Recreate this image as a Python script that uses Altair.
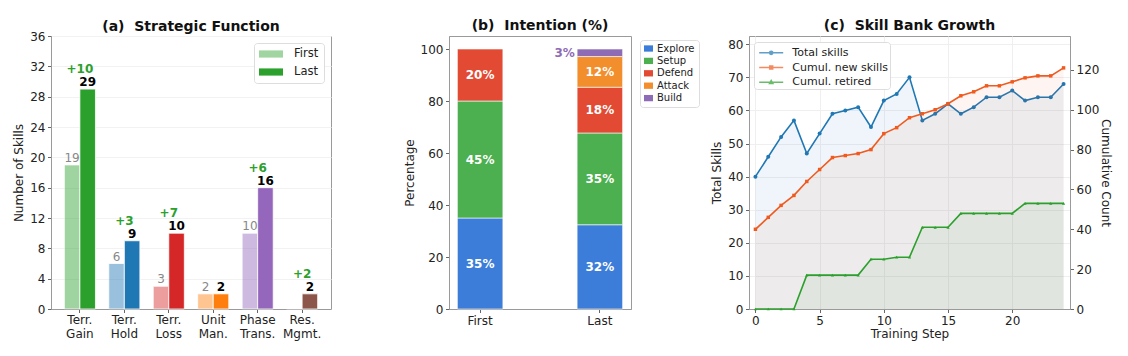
import altair as alt
import pandas as pd

FONT = "DejaVu Sans"

# ---------------- Panel (a): Strategic Function ----------------
func_cats = ["Terr. Gain", "Terr. Hold", "Terr. Loss", "Unit Man.", "Phase Trans.", "Res. Mgmt."]
func_first = [19, 6, 3, 2, 10, 0]
func_last = [29, 9, 10, 2, 16, 2]
func_colors = ["#2ca02c", "#1f77b4", "#d62728", "#ff7f0e", "#9467bd", "#8c564b"]
series_ab = ["First", "Last"]

# ---------------- Panel (b): Intention (%) ----------------
int_bars = ["First", "Last"]
int_cats = ["Explore", "Setup", "Defend", "Attack", "Build"]
int_first = [35, 45, 20, 0, 0]
int_last = [32.4, 35.3, 17.6, 11.8, 2.9]
int_colors = ["#3b7dd8", "#4caf50", "#e24a33", "#f28e2b", "#8e6bb5"]

# ---------------- Panel (c): Skill Bank Growth ----------------
steps = list(range(25))
total_skills = [40, 46, 52, 57, 47, 53, 59, 60, 61, 55, 63, 65, 70, 57, 59, 62, 59, 61, 64, 64, 66, 63, 64, 64, 68]
cumul_new = [40, 46, 52, 57, 64, 70, 76, 77, 78, 80, 88, 91, 96, 98, 100, 103, 107, 109, 112, 112, 114, 116, 117, 117, 121]
cumul_retired = [0, 0, 0, 0, 17, 17, 17, 17, 17, 25, 25, 26, 26, 41, 41, 41, 48, 48, 48, 48, 48, 53, 53, 53, 53]
series_c = ["Total skills", "Cumul. new skills", "Cumul. retired"]
colors_c = ["#1f77b4", "#f05a1e", "#2ca02c"]

# ======================= Panel (a) =======================
rows = []
for c, f, l, col in zip(func_cats, func_first, func_last, func_colors):
    rows.append(dict(cat=c, series="First", value=f, color=col, label=str(f) if f > 0 else ""))
    rows.append(dict(cat=c, series="Last", value=l, color=col, label=str(l)))
dfa = pd.DataFrame(rows)
dfd = pd.DataFrame(dict(cat=func_cats, value=func_last,
                        delta=[l - f for f, l in zip(func_first, func_last)]))
dfd = dfd[dfd.delta > 0].copy()
dfd["dlabel"] = "+" + dfd["delta"].astype(str)

xa = alt.X("cat:N", sort=func_cats,
           scale=alt.Scale(paddingInner=0.3, paddingOuter=0.3),
           axis=alt.Axis(title=None, labelAngle=0, labelExpr="split(datum.label, ' ')",
                         labelLineHeight=14, labelPadding=2))
ya = alt.Y("value:Q", scale=alt.Scale(domain=[0, 36], nice=False),
           axis=alt.Axis(title="Number of Skills", values=list(range(0, 37, 4)), grid=True,
                         gridColor="#f2f2f2", labelOverlap=False))
xoff = alt.XOffset("series:N", scale=alt.Scale(domain=series_ab, paddingInner=0, paddingOuter=0))

RECT_WIDE = "M-1,-0.6L3,-0.6L3,0.6L-1,0.6Z"
bars_a = alt.Chart(dfa).mark_bar(stroke="white", strokeWidth=0.8).encode(
    x=xa, xOffset=xoff, y=ya,
    fill=alt.Color("color:N", scale=None),
    opacity=alt.Opacity("series:N", scale=alt.Scale(domain=series_ab, range=[0.45, 1.0]),
                        legend=alt.Legend(title=None, orient="none", legendX=203, legendY=7,
                                          symbolType=RECT_WIDE, symbolSize=144,
                                          symbolFillColor="#2ca02c", symbolStrokeWidth=0,
                                          labelFontSize=11.5, rowPadding=6, padding=5,
                                          strokeColor="#dddddd", fillColor="white",
                                          cornerRadius=3, labelOffset=23)),
)
first_txt = alt.Chart(dfa).transform_filter("datum.series == 'First' && datum.value > 0").mark_text(
    baseline="bottom", dy=0, fontSize=12, color="#888888", font=FONT).encode(
    x=xa, xOffset=xoff, y=ya, text="label:N")
last_txt = alt.Chart(dfa).transform_filter("datum.series == 'Last'").mark_text(
    baseline="bottom", dy=0, fontSize=12, fontWeight="bold", color="black", font=FONT).encode(
    x=xa, xOffset=xoff, y=ya, text="label:N")
delta_txt = alt.Chart(dfd).mark_text(
    baseline="bottom", dy=-13, fontSize=12, fontWeight="bold", color="#2ca02c", font=FONT).encode(
    x=xa, y=ya, text="dlabel:N")

panel_a = alt.layer(bars_a, first_txt, last_txt, delta_txt).properties(
    width=280, height=273, title=alt.TitleParams("(a)\u00a0 Strategic Function"))

# ======================= Panel (b) =======================
rows = []
for bar, vals in zip(int_bars, [int_first, int_last]):
    for i, (c, v) in enumerate(zip(int_cats, vals)):
        if v > 0:
            rows.append(dict(bar=bar, cat=c, pct=v, idx=i, label=f"{round(v)}%"))
dfb = pd.DataFrame(rows)

xb = alt.X("bar:N", sort=int_bars, scale=alt.Scale(paddingInner=0.62, paddingOuter=0.07),
           axis=alt.Axis(title=None, labelAngle=0))
yb_scale = alt.Scale(domain=[0, 105], nice=False)
RECT_SMALL = "M-1,-0.7L1,-0.7L1,0.7L-1,0.7Z"
bars_b = alt.Chart(dfb).mark_bar(stroke="white", strokeWidth=0.6).encode(
    x=xb,
    y=alt.Y("pct:Q", stack="zero", scale=yb_scale,
            axis=alt.Axis(title="Percentage", values=[0, 20, 40, 60, 80, 100], grid=False,
                          labelOverlap=False)),
    color=alt.Color("cat:N", scale=alt.Scale(domain=int_cats, range=int_colors),
                    legend=alt.Legend(title=None, orient="none", legendX=191, legendY=4,
                                      symbolType=RECT_SMALL, symbolSize=81, symbolStrokeWidth=0,
                                      labelFontSize=10, rowPadding=2.4, padding=3.5,
                                      strokeColor="#dddddd", fillColor="white", cornerRadius=3,
                                      labelOffset=3.5)),
    order=alt.Order("idx:Q", sort="ascending"),
)
stacked = alt.Chart(dfb).transform_stack(
    stack="pct", as_=["lo", "hi"], groupby=["bar"],
    sort=[alt.SortField("idx", order="ascending")]).transform_calculate(mid="(datum.lo + datum.hi) / 2")
in_txt = stacked.transform_filter("datum.pct >= 5").mark_text(
    fontSize=12, fontWeight="bold", color="white", font=FONT, baseline="middle").encode(
    x=xb, y=alt.Y("mid:Q", scale=yb_scale), text="label:N")
out_txt = stacked.transform_filter("datum.pct < 5").mark_text(
    fontSize=12, fontWeight="bold", color="#8e6bb5", font=FONT, baseline="middle",
    align="right", dx=-25).encode(
    x=xb, y=alt.Y("mid:Q", scale=yb_scale), text="label:N")

panel_b = alt.layer(bars_b, in_txt, out_txt).properties(
    width=182, height=273, title=alt.TitleParams("(b)\u00a0 Intention (%)", dy=-7))

# ======================= Panel (c) =======================
dfc = pd.DataFrame({"step": steps, "Total skills": total_skills,
                    "Cumul. new skills": cumul_new, "Cumul. retired": cumul_retired})
dfc_long = dfc.melt(id_vars="step", var_name="series", value_name="value")

xc = alt.X("step:Q", scale=alt.Scale(domain=[-0.5, 24.5], nice=False, zero=False),
           axis=alt.Axis(title="Training Step", values=[0, 5, 10, 15, 20], grid=True,
                         gridColor="#efefef", titlePadding=2))
yl_scale = alt.Scale(domain=[0, 82.5], nice=False)
yr_scale = alt.Scale(domain=[0, 137], nice=False)

# legend symbols: a line with the series marker in its middle
P_CIRC = "M-0.7,0L2.3,0M1.0,0A0.2,0.2,0,1,1,0.6,0A0.2,0.2,0,1,1,1.0,0Z"
P_SQR = "M-0.7,0L2.3,0M0.62,-0.18L0.98,-0.18L0.98,0.18L0.62,0.18Z"
P_TRI = "M-0.7,0L2.3,0M0.8,-0.2L1.0,0.15L0.6,0.15Z"
col_scale_c = alt.Scale(domain=series_c, range=colors_c)


def legend_c_def():
    return alt.Legend(title=None, orient="none", legendX=5, legendY=6,
                      symbolSize=256, symbolStrokeWidth=1.6,
                      labelFontSize=11, rowPadding=0.7, padding=1.8,
                      strokeColor="#dddddd", fillColor="white", cornerRadius=3,
                      labelOffset=18.5)


base_c = alt.Chart(dfc_long)
yl = alt.Y("value:Q", scale=yl_scale,
           axis=alt.Axis(title="Total Skills", values=list(range(0, 81, 10)), grid=True,
                         gridColor="#efefef", orient="left", labelOverlap=False))
yr = alt.Y("value:Q", scale=yr_scale,
           axis=alt.Axis(title="Cumulative Count", values=list(range(0, 121, 20)), grid=False,
                         orient="right", labelOverlap=False, titlePadding=0))

# legend-only layer (no rows drawn): colour + stroke + shape merged into one legend
legend_c = base_c.transform_filter("false").mark_point(filled=True, strokeWidth=1.6).encode(
    x=xc, y=yl,
    color=alt.Color("series:N", scale=col_scale_c, legend=legend_c_def()),
    stroke=alt.Stroke("series:N", scale=col_scale_c, legend=legend_c_def()),
    shape=alt.Shape("series:N", scale=alt.Scale(domain=series_c, range=[P_CIRC, P_SQR, P_TRI]),
                    legend=legend_c_def()),
)

left_area = base_c.transform_filter("datum.series == 'Total skills'").mark_area(
    color=colors_c[0], opacity=0.07).encode(x=xc, y=yl)
left_line = base_c.transform_filter("datum.series == 'Total skills'").mark_line(
    strokeWidth=1.6, color=colors_c[0]).encode(x=xc, y=yl)
left_pts = base_c.transform_filter("datum.series == 'Total skills'").mark_point(
    shape="circle", filled=True, size=16, opacity=1, color=colors_c[0]).encode(x=xc, y=yl)
left_layer = alt.layer(left_area, left_line, left_pts, legend_c)

new_area = base_c.transform_filter("datum.series == 'Cumul. new skills'").mark_area(
    color=colors_c[1], opacity=0.06).encode(x=xc, y=yr)
ret_area = base_c.transform_filter("datum.series == 'Cumul. retired'").mark_area(
    color=colors_c[2], opacity=0.07).encode(x=xc, y=yr)
new_line = base_c.transform_filter("datum.series == 'Cumul. new skills'").mark_line(
    strokeWidth=1.6, color=colors_c[1]).encode(x=xc, y=yr)
ret_line = base_c.transform_filter("datum.series == 'Cumul. retired'").mark_line(
    strokeWidth=1.6, color=colors_c[2]).encode(x=xc, y=yr)
new_pts = base_c.transform_filter("datum.series == 'Cumul. new skills'").mark_point(
    shape="square", filled=True, size=12, opacity=1, color=colors_c[1]).encode(x=xc, y=yr)
ret_pts = base_c.transform_filter("datum.series == 'Cumul. retired'").mark_point(
    shape="triangle-up", filled=True, size=10, opacity=1, color=colors_c[2]).encode(x=xc, y=yr)
right_layer = alt.layer(new_area, ret_area, new_line, ret_line, new_pts, ret_pts)

panel_c = alt.layer(left_layer, right_layer).resolve_scale(y="independent").properties(
    width=321, height=273, title=alt.TitleParams("(c)\u00a0 Skill Bank Growth", dy=-7))

chart = alt.hconcat(panel_a, panel_b, panel_c, spacing=118, bounds="flush").resolve_scale(
    color="independent", opacity="independent", shape="independent", stroke="independent"
).properties(
    padding={"left": 12, "top": 18, "right": 5, "bottom": 5}
).configure_view(
    stroke="#9a9a9a", strokeWidth=1
).configure_axis(
    labelFont=FONT, titleFont=FONT, labelFontSize=12, titleFontSize=12,
    labelColor="#222222", titleColor="#222222", titleFontWeight="normal",
    domainColor="#9a9a9a", tickColor="#666666", tickSize=3.5, labelPadding=2.5, titlePadding=4
).configure_title(
    font=FONT, fontSize=14, fontWeight="bold", anchor="middle", offset=-4, color="#111111"
).configure_legend(
    labelFont=FONT, labelColor="#222222"
)

chart.save("out.html", embed_options={"renderer": "svg", "actions": False})
